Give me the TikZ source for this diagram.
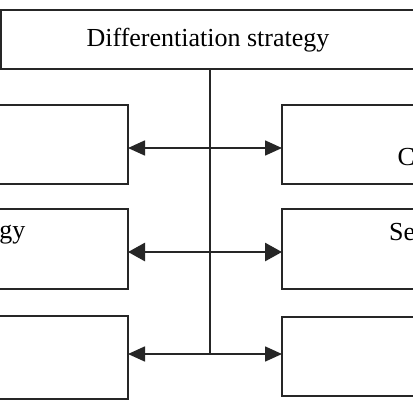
\documentclass[tikz,border=0pt]{standalone}
\usepackage{fontspec}
\setmainfont{Liberation Serif}
\usetikzlibrary{arrows.meta}
\begin{document}
\begin{tikzpicture}[x=1pt,y=-1pt,
  box/.style={draw=black!85,line width=1.4pt,inner sep=0pt,outer sep=0pt},
  lbl/.style={inner sep=0pt,font=\fontsize{26}{30}\selectfont},
  link/.style={draw=black!85,line width=1.6pt},
  arr/.style={link,-{Triangle[length=17pt,width=15pt]}},
  thick arr/.style={link,line width=2.8pt,-{Triangle[length=17pt,width=18pt]}}]
\useasboundingbox (0,0) rectangle (413,413);
\fill[white] (0,0) rectangle (413,413);
\clip (0,0) rectangle (413,413);
% top box
\node[box,minimum width=430pt,minimum height=59pt] (top) at (216,39.5) {};
\node[lbl,anchor=base] (toplbl) at (208,46) {Differentiation strategy};
% left boxes
\node[box,minimum width=270pt,minimum height=79pt] (l1) at (-7,144.5) {};
\node[box,minimum width=270pt,minimum height=80pt] (l2) at (-7,249) {};
\node[box,minimum width=270pt,minimum height=83pt] (l3) at (-7,357.5) {};
% right boxes
\node[box,minimum width=150pt,minimum height=79pt] (r1) at (357,144.5) {};
\node[box,minimum width=150pt,minimum height=80pt] (r2) at (357,249) {};
\node[box,minimum width=150pt,minimum height=79pt] (r3) at (357,356.5) {};
% partial labels
\node[lbl,anchor=base east] (l2lbl) at (25.5,238) {gy};
\node[lbl,anchor=base west] (r1lbl) at (397.5,165) {C};
\node[lbl,anchor=base west] (r2lbl) at (389,240) {Se};
% junctions
\coordinate (j1) at (210,148);
\coordinate (j2) at (210,252);
\coordinate (j3) at (210,354);
\draw[link] (top.south -| j1) -- (j3);
\draw[arr] (j1) -- (j1 -| l1.east);
\draw[arr] (j1) -- (j1 -| r1.west);
\draw[thick arr] (j2) -- (j2 -| l2.east);
\draw[thick arr] (j2) -- (j2 -| r2.west);
\draw[arr] (j3) -- (j3 -| l3.east);
\draw[arr] (j3) -- (j3 -| r3.west);
\end{tikzpicture}
\end{document}
